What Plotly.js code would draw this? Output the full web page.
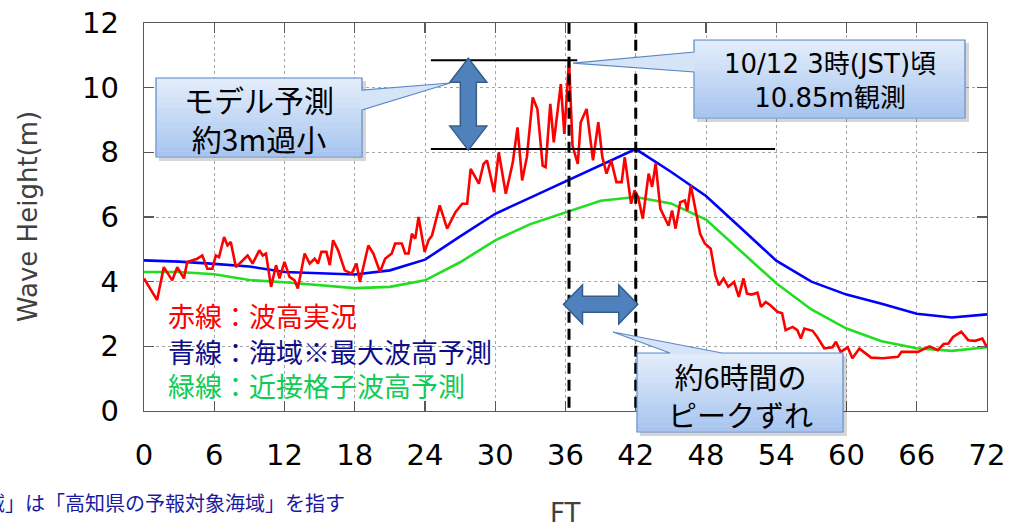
<!DOCTYPE html>
<html>
<head>
<meta charset="utf-8">
<script src="https://cdn.plot.ly/plotly-3.0.1.min.js"></script>
<style>
html,body{margin:0;padding:0;background:#fff;}
#chart{width:1012px;height:522px;}
</style>
</head>
<body>
<div id="chart"></div>
<script>
// ---------- data ----------
const redFT = [0,1.12,1.69,2.41,2.84,3.41,3.69,4.55,4.98,5.41,5.84,6.13,6.41,6.84,7.13,7.41,7.85,8.85,9.28,9.85,10.14,10.42,10.85,11.28,11.57,12.0,12.43,12.86,13.14,13.72,14.15,14.58,14.86,15.15,15.58,15.87,16.15,16.58,17.15,17.73,18.15,18.44,19.16,19.59,20.16,20.59,21.16,21.45,22.02,22.31,22.6,22.88,23.17,23.45,23.97,24.3,24.6,25.26,25.89,26.6,27.18,27.6,27.9,28.6,29.0,29.3,29.9,30.3,30.9,31.5,31.9,32.3,32.7,33.2,33.6,34.05,34.3,34.7,35.0,35.6,35.9,36.3,36.6,37.05,37.3,37.8,38.35,38.8,39.15,39.5,39.9,40.35,40.8,41.06,41.6,41.9,42.2,42.6,43.1,43.4,43.7,44.1,44.8,45.1,45.4,45.8,46.2,46.4,46.7,47.2,47.5,47.9,48.4,48.8,49.1,49.5,49.9,50.4,50.8,51.2,51.5,51.9,52.4,52.7,53.1,53.5,54.1,54.5,54.8,55.4,55.8,56.1,56.4,57.1,57.5,58.1,58.8,59.1,59.5,60.1,60.5,61.1,62.1,63.1,64.4,64.7,66.1,67.1,67.8,68.3,68.7,69.1,69.8,70.4,71.0,71.6,72.0];
const redH  = [4.10,3.43,4.45,4.04,4.45,4.10,4.61,4.71,4.81,4.40,4.40,4.81,4.76,5.38,5.12,5.23,4.45,4.81,4.56,4.97,4.81,4.87,3.84,4.51,4.10,4.61,4.15,4.04,3.79,4.87,4.56,4.71,4.56,4.92,4.92,4.51,5.28,4.97,4.35,4.25,4.56,3.99,5.12,4.87,4.30,4.71,4.87,5.18,5.18,4.87,4.87,5.48,5.33,6.00,4.92,5.28,5.43,6.36,5.64,6.15,6.41,6.41,7.49,7.03,7.64,7.75,6.77,8.00,6.72,7.69,8.77,7.13,7.85,9.70,9.34,7.59,7.54,9.50,8.31,10.11,8.57,10.85,8.20,7.64,8.93,9.34,7.75,8.93,7.85,7.34,7.75,7.08,7.08,7.85,6.41,6.82,6.62,5.95,7.34,6.93,7.66,6.26,5.73,6.20,5.64,6.46,6.51,6.20,6.98,6.10,5.48,5.18,5.02,4.20,3.89,4.10,3.84,3.99,3.53,4.10,3.63,3.60,3.66,3.22,3.37,3.27,3.07,3.02,2.50,2.60,2.50,2.24,2.55,2.48,2.29,1.94,1.97,2.14,1.83,1.97,1.63,1.93,1.65,1.63,1.68,1.83,1.83,2.00,1.88,2.07,2.09,2.29,2.45,2.19,2.17,2.24,1.97];

const fcFT   = [0,3,6,9,12,15,18,21,24,27,30,33,36,39,42,45,48,51,54,57,60,63,66,69,72];
const blueH  = [4.66,4.62,4.55,4.47,4.30,4.27,4.22,4.35,4.68,5.40,6.10,6.60,7.10,7.62,8.10,7.40,6.65,5.65,4.65,4.00,3.60,3.32,3.01,2.89,2.99];
const greenH = [4.30,4.30,4.23,4.05,3.98,3.88,3.80,3.84,4.04,4.60,5.28,5.78,6.15,6.50,6.62,6.42,5.92,4.95,3.95,3.14,2.55,2.16,1.94,1.86,1.97];

const xTicks = [0,6,12,18,24,30,36,42,48,54,60,66,72];
const yTicks = [0,2,4,6,8,10,12];

const obsPeakFT = 36.3, obsPeakH = 10.85;
const fcPeakFT = 42, fcPeakH = 8.1;

const legendTexts = ['赤線：波高実況','青線：海域※最大波高予測','緑線：近接格子波高予測'];
const callout1Text = 'モデル予測<br>約3m過小';
const callout2Text = '10/12 3時(JST)頃<br>10.85m観測';
const callout3Text = '約6時間の<br>ピークずれ';
const noteText = '※「海域」は「高知県の予報対象海域」を指す';

// ---------- geometry helpers (plot area in px) ----------
const L=144, R=987, T=23, B=411;
const XMAX=72, YMAX=12;
function pxX(x){return L + x/XMAX*(R-L);}
function pxY(y){return B - y/YMAX*(B-T);}
function papX(px){return (px-L)/(R-L);}
function papY(py){return (B-py)/(B-T);}
function pathFrom(pts){return 'M ' + pts.map(p=>papX(p[0]).toFixed(5)+','+papY(p[1]).toFixed(5)).join(' L ') + ' Z';}

const shapes = [];
function pshape(o){ o.xref='paper'; o.yref='paper'; shapes.push(o); }

// dashed vertical lines at peak times
[obsPeakFT, fcPeakFT].forEach(ft=>{
  pshape({type:'line', x0:papX(pxX(ft)), x1:papX(pxX(ft)), y0:papY(pxY(0.1)), y1:papY(pxY(12)),
    line:{color:'#000', width:3, dash:'11px,6px'}});
});
// horizontal peak lines
pshape({type:'line', x0:papX(pxX(24.5)), x1:papX(pxX(37)), y0:papY(pxY(obsPeakH)), y1:papY(pxY(obsPeakH)), line:{color:'#000',width:2}});
pshape({type:'line', x0:papX(pxX(24.5)), x1:papX(pxX(53.9)), y0:papY(pxY(fcPeakH)), y1:papY(pxY(fcPeakH)), line:{color:'#000',width:2}});

// vertical double arrow
(function(){
  const cx = pxX(27.7), t = pxY(obsPeakH)-2, b = pxY(fcPeakH)+1;
  const hw=18.5, hh=24, sw=8;
  pshape({type:'path', path:pathFrom([[cx,t],[cx+hw,t+hh],[cx+sw,t+hh],[cx+sw,b-hh],[cx+hw,b-hh],[cx,b],[cx-hw,b-hh],[cx-sw,b-hh],[cx-sw,t+hh],[cx-hw,t+hh]]),
    fillcolor:'#4f81bd', line:{color:'#385d8a', width:1.5}});
})();
// horizontal double arrow
(function(){
  const cy = pxY(3.3), l = pxX(36)-2, r = pxX(fcPeakFT)+2;
  const hh=19.5, hl=19, sw=8;
  pshape({type:'path', path:pathFrom([[l,cy],[l+hl,cy-hh],[l+hl,cy-sw],[r-hl,cy-sw],[r-hl,cy-hh],[r,cy],[r-hl,cy+hh],[r-hl,cy+sw],[l+hl,cy+sw],[l+hl,cy+hh]]),
    fillcolor:'#4f81bd', line:{color:'#385d8a', width:1.5}});
})();

// callouts
function hex(c){return [parseInt(c.substr(1,2),16),parseInt(c.substr(3,2),16),parseInt(c.substr(5,2),16)];}
function mix(a,b,t){const A=hex(a),Bc=hex(b);return 'rgb('+A.map((v,i)=>Math.round(v+(Bc[i]-v)*t)).join(',')+')';}
function callout(box, poly){
  const [x0,y0,x1,y1]=box;
  pshape({type:'rect', x0:papX(x0+3), x1:papX(x1+4), y0:papY(y0+3), y1:papY(y1+4), fillcolor:'rgba(0,0,0,0.16)', line:{width:0}});
  pshape({type:'path', path:pathFrom(poly), fillcolor:'#d6e4f8', line:{color:'#5a88c8', width:1.2}});
  const N=16;
  for(let i=0;i<N;i++){
    const ya = y0+1 + (y1-y0-2)*i/N, yb = y0+1 + (y1-y0-2)*(i+1)/N + 0.4;
    pshape({type:'rect', x0:papX(x0+1), x1:papX(x1-1), y0:papY(ya), y1:papY(Math.min(yb,y1-1)),
      fillcolor:mix('#e4eefb','#a6c4ef',(i+0.5)/N), line:{width:0}});
  }
}
callout([156,78,362,157], [[156,78],[362,78],[362,90],[pxX(27.7)-18,83],[362,110],[362,157],[156,157]]);
callout([694,40,965,118], [[694,40],[965,40],[965,118],[694,118],[694,72],[pxX(obsPeakFT)+4,pxY(obsPeakH)+3],[694,52]]);
callout([637,353,843,432], [[637,353],[670,353],[613,332],[722,353],[843,353],[843,432],[637,432]]);

// ---------- annotations ----------
const cjk = 'Noto Sans CJK JP, sans-serif';
const annotations = [
  {text:callout1Text, x:papX(259), y:papY(118), font:{family:cjk,size:30,color:'#000'}},
  {text:callout2Text, x:papX(829.5), y:papY(81), font:{family:'DejaVu Sans, Noto Sans CJK JP, sans-serif',size:26,color:'#000'}},
  {text:callout3Text, x:papX(740), y:papY(395), font:{family:cjk,size:29,color:'#000'}},
  {text:legendTexts[0], x:papX(166), y:papY(315), xanchor:'left', font:{family:cjk,size:27,color:'#ff0000'}},
  {text:legendTexts[1], x:papX(166), y:papY(351), xanchor:'left', font:{family:cjk,size:27,color:'#0d0d8c'}},
  {text:legendTexts[2], x:papX(166), y:papY(385), xanchor:'left', font:{family:cjk,size:27,color:'#10cc55'}},
  {text:noteText, x:papX(347), y:papY(502), xanchor:'right', font:{family:cjk,size:20,color:'#1a1aa0'}},
  {text:'Wave Height(m)', x:papX(28), y:0.5, textangle:-90, font:{family:'DejaVu Sans, sans-serif',size:26,color:'#404040'}},
  {text:'FT', x:papX(565), y:papY(513), font:{family:'DejaVu Sans, sans-serif',size:26,color:'#404040'}}
].map(a=>Object.assign({xref:'paper', yref:'paper', showarrow:false, xanchor:'center', yanchor:'middle', align:'center'}, a));

// ---------- traces ----------
const traces = [
  {x:fcFT, y:greenH, type:'scatter', mode:'lines', line:{color:'#22dd22', width:2.6}, hoverinfo:'skip'},
  {x:fcFT, y:blueH, type:'scatter', mode:'lines', line:{color:'#0000ff', width:2.6}, hoverinfo:'skip'},
  {x:redFT, y:redH, type:'scatter', mode:'lines', line:{color:'#ff0000', width:2.6}, hoverinfo:'skip'}
];

const axisCommon = {
  showline:true, linecolor:'#595959', linewidth:1.3, mirror:'ticks',
  ticks:'inside', ticklen:10, tickcolor:'#595959', tickwidth:1.3,
  showgrid:true, gridcolor:'#a6a6a6', griddash:'dot', gridwidth:1,
  zeroline:false, fixedrange:true,
  tickfont:{family:'DejaVu Sans, sans-serif', size:29, color:'#000'}
};

const layout = {
  width:1012, height:522,
  margin:{l:L, r:1012-R, t:T, b:522-B, pad:0},
  paper_bgcolor:'#fff', plot_bgcolor:'#fff',
  showlegend:false,
  xaxis:Object.assign({}, axisCommon, {range:[0,XMAX], tickmode:'array', tickvals:xTicks, ticktext:xTicks.map(String), ticklabelstandoff:18, automargin:false}),
  yaxis:Object.assign({}, axisCommon, {range:[0,YMAX], tickmode:'array', tickvals:yTicks, ticktext:yTicks.map(String), ticklabelstandoff:18, automargin:false}),
  shapes:shapes,
  annotations:annotations
};

Plotly.newPlot('chart', traces, layout, {displayModeBar:false, staticPlot:true});
</script>
</body>
</html>
